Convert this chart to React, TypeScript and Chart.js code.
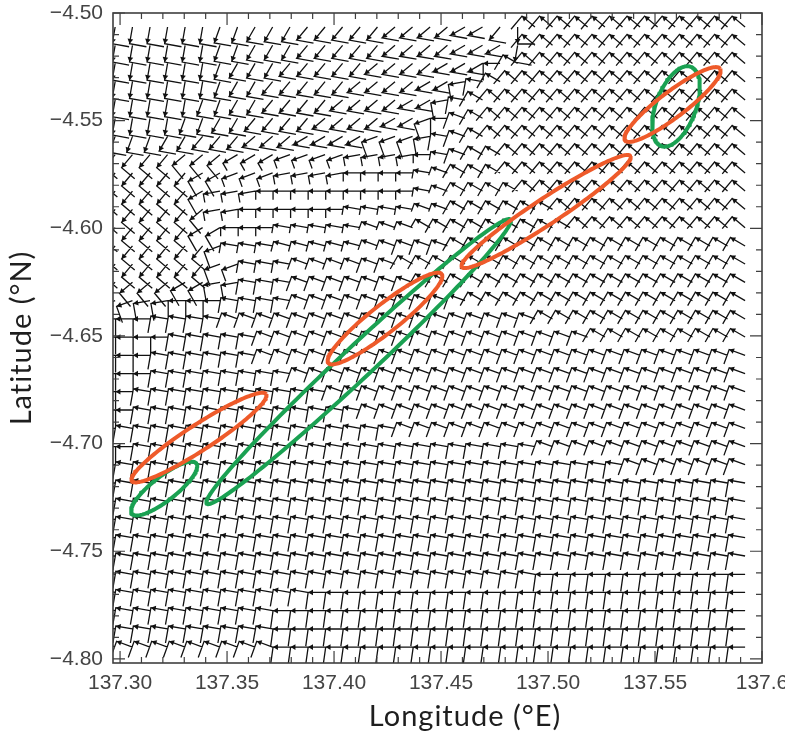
import { useEffect, useRef } from 'react';
import { Chart, registerables } from 'chart.js';

Chart.register(...registerables);

// Grid nodes of the surface-current field
const LONGITUDES = [
  137.2977, 137.3058, 137.3140, 137.3222, 137.3304, 137.3386, 137.3467, 137.3549,
  137.3631, 137.3713, 137.3794, 137.3876, 137.3958, 137.4040, 137.4122, 137.4203,
  137.4285, 137.4367, 137.4449, 137.4530, 137.4612, 137.4694, 137.4776, 137.4858,
  137.4939, 137.5021, 137.5103, 137.5185, 137.5266, 137.5348, 137.5430, 137.5512,
  137.5594, 137.5675, 137.5757, 137.5839, 137.5921,
];
const LATITUDES = [
  -4.5065, -4.5150, -4.5234, -4.5319, -4.5404, -4.5489, -4.5573, -4.5658, -4.5743,
  -4.5827, -4.5912, -4.5997, -4.6082, -4.6166, -4.6251, -4.6336, -4.6421, -4.6505,
  -4.6590, -4.6675, -4.6759, -4.6844, -4.6929, -4.7014, -4.7098, -4.7183, -4.7268,
  -4.7352, -4.7437, -4.7522, -4.7607, -4.7691, -4.7776, -4.7861, -4.7945,
];

// Current direction at each node, degrees counter-clockwise from east.
// One row per latitude (north to south), run-length coded as "angle*count".
const CURRENT_DIR = [
  '260*6 250*2 240*3 230*5 220*4 210*2 230 270 140*13',
  '260*6 250*2 240*3 230*5 220*4 210*3 260 140*13',
  '260*6 250 240*3 230*5 220*4 210*3 180 150 140*13',
  '260*6 250 240*2 230*5 220*4 210*2 190 170 150 140*14',
  '260*5 250*2 240*2 230*4 220*4 210*2 190 170 150 140*15',
  '260*4 250*2 240*2 230*4 220*4 210*2 200 180 160 150 140*15',
  '250*3 240*2 230*3 220*3 210*4 200*3 190 170 160 150 140*15',
  '230*4 220*3 210*3 200*4 190*4 180 170 160 150*2 140*14',
  '230*5 210*2 200*3 190*4 180*4 170 160 150*3 140*14',
  '230*5 210 190*3 180*9 170 160 150*4 140*13',
  '230*5 220 190*2 180*6 170*4 160*2 150*6 140*11',
  '230*5 210*2 180*3 170*5 160*3 150*9 140*10',
  '230*6 200 170*3 165*5 160*5 150*17',
  '230*6 200*2 170*3 160*6 150*20',
  '220*4 210*2 190*2 170*3 160*7 150*19',
  '200*2 190*2 180*3 170*4 160*10 150*16',
  '180*3 170*4 160*18 150*12',
  '180*4 170*5 160*19 150*9',
  '180*3 170*6 160*28',
  '180*3 170*8 160*26',
  '180*2 170*11 160*24',
  '180*2 170*13 160*22',
  '180 170*16 160*20',
  '180*2 170*23 160*12',
  '180 170*29 160*7',
  '180 170*36',
  '180 170*36',
  '180 170*36',
  '180 170*36',
  '180 170*36',
  '170*25 180*12',
  '170*12 180*25',
  '170*10 180*27',
  '170*10 180*27',
  '160*10 180*27',
];

// Direction of the cross-stroke leaving each arrow tip (degrees counter-clockwise from east).
const CROSS_DIR = [
  '350*23 0 230*13',
  '350*24 230*13',
  '350*22 270 240 230*13',
  '350*20 280 260 240 230*14',
  '350*19 280 260 240 230*15',
  '350*18 290 270 250 240 230*15',
  '350*15 290*3 280 260 250 240 230*15',
  '320*4 310*3 300*3 290*4 280*4 270 260 250 240*2 230*14',
  '320*5 300*2 290*3 280*4 270*4 260 250 240*3 230*14',
  '320*5 300 280*3 270*9 260 250 240*4 230*13',
  '320*5 310 280*2 270*6 260*4 250*2 240*6 230*11',
  '320*5 300*2 270*3 260*5 250*3 240*9 230*10',
  '320*6 290 260*3 255*5 250*5 240*17',
  '320*6 290*2 260*3 250*6 240*20',
  '310*4 300*2 280*2 260*3 250*7 240*19',
  '290*2 280*2 270*3 260*4 250*10 240*16',
  '270*3 260*4 250*18 240*12',
  '270*4 260*5 250*19 240*9',
  '270*3 260*6 250*28',
  '270*3 260*8 250*26',
  '270*2 260*11 250*24',
  '270*2 260*13 250*22',
  '270 260*16 250*20',
  '270*2 260*23 250*12',
  '270 260*29 250*7',
  '262 260*36',
  '262 260*36',
  '262 260*36',
  '262 260*36',
  '262 260*36',
  '260*25 262*12',
  '260*12 262*25',
  '260*10 262*27',
  '260*10 262*27',
  '250*10 262*27',
];

// Relative length of the cross-stroke at each node.
const CROSS_SIZE = [
  '1*37', '1*37', '1*37', '1*37', '1*37', '1*37', '1*37',
  '1*7 0.5*13 0.9*17',
  '1*7 0.5*13 0.9*17',
  '1*6 0.5*14 0.9*17',
  '1*6 0.5*14 0.9*17',
  '1*7 0.5*12 0.9*18',
  '1*7 0.6*10 0.9*20',
  '1*7 0.7*8 0.9*22',
  '1*7 0.9*30', '1*7 0.9*30', '1*7 0.9*30', '1*7 0.9*30', '1*7 0.9*30',
  '1*7 0.9*30', '1*7 0.9*30', '1*7 0.9*30', '1*7 0.9*30', '1*7 0.9*30',
  '1*37', '1*37', '1*37', '1*37', '1*37', '1*37', '1*37', '1*37', '1*37', '1*37', '1*37',
];

// Axis labels
const LON_TICKS = [137.3, 137.35, 137.4, 137.45, 137.5, 137.55, 137.6];
const LAT_TICKS = [-4.8, -4.75, -4.7, -4.65, -4.6, -4.55, -4.5];

// Ellipses: centre, half major axis (lon/lat offsets) and semi-minor axis, in degrees
const ELLIPSE_LON = [137.5582, 137.5598, 137.4991, 137.4238, 137.3369, 137.3206, 137.4115];
const ELLIPSE_LAT = [-4.5425, -4.5434, -4.5922, -4.6419, -4.6972, -4.7209, -4.6619];
const ELLIPSE_AXIS_DLON = [0.0222, 0.0070, 0.0394, 0.0265, 0.0314, 0.0151, 0.0710];
const ELLIPSE_AXIS_DLAT = [0.0167, 0.0184, 0.0258, 0.0207, 0.0202, 0.0117, 0.0660];
const ELLIPSE_MINOR = [0.0060, 0.0093, 0.0060, 0.0065, 0.0060, 0.0056, 0.0074];
const ELLIPSE_KIND = ['red', 'green', 'red', 'red', 'red', 'green', 'green'];

// Styling
const ARROW_LEN = 0.0079;
const CROSS_LEN = 0.0080;
const HEAD_RADIUS = 3.3;
const HEAD_BACK = 0.0015;
const INK = '#111111';
const ELLIPSE_COLORS: Record<string, string> = { red: '#EE5A2A', green: '#1AA152' };
const AXIS_COLOR = '#3f3f3f';
const TICK_FONT = { family: 'Liberation Sans', size: 21 };
const TITLE_FONT = '29px Lato';

function expandRow(row: string, n: number): number[] {
  const out: number[] = [];
  for (const tok of row.trim().split(/\s+/)) {
    const [a, c] = tok.split('*');
    const count = c ? parseInt(c, 10) : 1;
    for (let k = 0; k < count; k++) out.push(parseFloat(a));
  }
  while (out.length < n) out.push(out[out.length - 1]);
  return out.slice(0, n);
}

const rad = (d: number) => (d * Math.PI) / 180;

function buildField() {
  const lines: { x: number; y: number | null }[] = [];
  const heads: { x: number; y: number }[] = [];
  const headRot: number[] = [];
  const n = LONGITUDES.length;
  LATITUDES.forEach((lat, j) => {
    const dirs = expandRow(CURRENT_DIR[j], n);
    const cross = expandRow(CROSS_DIR[j], n);
    const size = expandRow(CROSS_SIZE[j], n);
    LONGITUDES.forEach((lon, i) => {
      const a = rad(dirs[i]);
      const b = rad(cross[i]);
      const bl = CROSS_LEN * size[i];
      const hx = lon + ARROW_LEN * Math.cos(a);
      const hy = lat + ARROW_LEN * Math.sin(a);
      // shaft from the node to the tip, then the cross-stroke leaving the tip
      lines.push(
        { x: lon, y: lat },
        { x: hx, y: hy },
        { x: hx + bl * Math.cos(b), y: hy + bl * Math.sin(b) },
        { x: lon, y: null },
      );
      heads.push({ x: hx - HEAD_BACK * Math.cos(a), y: hy - HEAD_BACK * Math.sin(a) });
      headRot.push(90 - dirs[i]);
    });
  });
  return { lines, heads, headRot };
}

function ellipsePoints(k: number) {
  const ux = ELLIPSE_AXIS_DLON[k];
  const uy = ELLIPSE_AXIS_DLAT[k];
  const len = Math.hypot(ux, uy);
  const vx = (-uy / len) * ELLIPSE_MINOR[k];
  const vy = (ux / len) * ELLIPSE_MINOR[k];
  const pts: { x: number; y: number }[] = [];
  const N = 160;
  for (let s = 0; s <= N; s++) {
    const t = (s / N) * Math.PI * 2;
    pts.push({
      x: ELLIPSE_LON[k] + ux * Math.cos(t) + vx * Math.sin(t),
      y: ELLIPSE_LAT[k] + uy * Math.cos(t) + vy * Math.sin(t),
    });
  }
  return pts;
}

const frameAndTitles = {
  id: 'frameAndTitles',
  afterDatasetsDraw(chart: any) {
    const { ctx, chartArea, scales } = chart;
    const { left, right, top, bottom } = chartArea;
    const x = scales.x;
    const y = scales.y;
    ctx.save();
    ctx.strokeStyle = AXIS_COLOR;
    ctx.lineWidth = 1.2;
    ctx.beginPath();
    for (let k = 0; k <= 30; k++) {
      const len = k % 5 === 0 ? 12 : 6;
      const px = x.getPixelForValue(137.3 + k * 0.01);
      ctx.moveTo(px, bottom);
      ctx.lineTo(px, bottom - len);
      ctx.moveTo(px, top);
      ctx.lineTo(px, top + len);
      const py = y.getPixelForValue(-4.8 + k * 0.01);
      ctx.moveTo(left, py);
      ctx.lineTo(left + len, py);
      ctx.moveTo(right, py);
      ctx.lineTo(right - len, py);
    }
    ctx.stroke();
    ctx.lineWidth = 1.6;
    ctx.strokeRect(left, top, right - left, bottom - top);

    ctx.fillStyle = '#1e1e1e';
    ctx.font = TITLE_FONT;
    (ctx as any).letterSpacing = '1px';
    ctx.textAlign = 'center';
    ctx.textBaseline = 'middle';
    ctx.fillText('Longitude (°E)', 465, 717);
    ctx.translate(22, 338);
    ctx.rotate(-Math.PI / 2);
    ctx.fillText('Latitude (°N)', 0, 0);
    ctx.restore();
  },
};

export default function App() {
  const ref = useRef<HTMLCanvasElement>(null);

  useEffect(() => {
    const canvas = ref.current;
    if (!canvas) return;
    const { lines, heads, headRot } = buildField();

    const ellipseSets = ELLIPSE_LON.map((_, k) => ({
      data: ellipsePoints(k),
      showLine: true,
      borderColor: ELLIPSE_COLORS[ELLIPSE_KIND[k]],
      borderWidth: 4,
      pointRadius: 0,
      tension: 0,
      borderJoinStyle: 'round' as const,
      order: 0,
    }));

    const chart = new Chart(canvas, {
      type: 'scatter',
      data: {
        datasets: [
          ...ellipseSets,
          {
            data: heads,
            showLine: false,
            pointStyle: 'triangle',
            pointRadius: HEAD_RADIUS,
            pointRotation: (c: any) => headRot[c.dataIndex],
            pointBackgroundColor: INK,
            pointBorderWidth: 0,
            order: 1,
          },
          {
            data: lines,
            showLine: true,
            spanGaps: false,
            borderColor: INK,
            borderWidth: 1.3,
            pointRadius: 0,
            tension: 0,
            order: 2,
          },
        ] as any,
      },
      options: {
        responsive: false,
        devicePixelRatio: 1,
        animation: false,
        events: [],
        layout: { padding: { left: 0, top: 13, right: 23, bottom: 0 } },
        plugins: { legend: { display: false }, tooltip: { enabled: false } },
        scales: {
          x: {
            type: 'linear',
            min: 137.2967,
            max: 137.6,
            grid: { display: false, drawTicks: false },
            border: { display: false },
            afterBuildTicks: (s: any) => {
              s.ticks = LON_TICKS.map((v) => ({ value: v }));
            },
            afterFit: (s: any) => {
              s.height = 72;
              s.paddingLeft = 0;
              s.paddingRight = 0;
            },
            ticks: {
              autoSkip: false,
              maxRotation: 0,
              padding: 8,
              color: '#444',
              font: TICK_FONT,
              callback: (v: any) => (Math.abs(v - 137.6) < 1e-6 ? '137.6' : Number(v).toFixed(2)),
            },
          },
          y: {
            type: 'linear',
            min: -4.8019,
            max: -4.5,
            grid: { display: false, drawTicks: false },
            border: { display: false },
            afterBuildTicks: (s: any) => {
              s.ticks = LAT_TICKS.map((v) => ({ value: v }));
            },
            afterFit: (s: any) => {
              s.width = 113;
              s.paddingTop = 0;
              s.paddingBottom = 0;
            },
            ticks: {
              autoSkip: false,
              padding: 10,
              color: '#444',
              font: TICK_FONT,
              callback: (v: any) => '\u2212' + Math.abs(Number(v)).toFixed(2),
            },
          },
        },
      } as any,
      plugins: [frameAndTitles],
    });
    return () => chart.destroy();
  }, []);

  return (
    <div style={{ position: 'fixed', left: 0, top: 0, width: 785, height: 735, background: '#fff' }}>
      <canvas ref={ref} width={785} height={735} style={{ display: 'block', width: 785, height: 735 }} />
    </div>
  );
}
